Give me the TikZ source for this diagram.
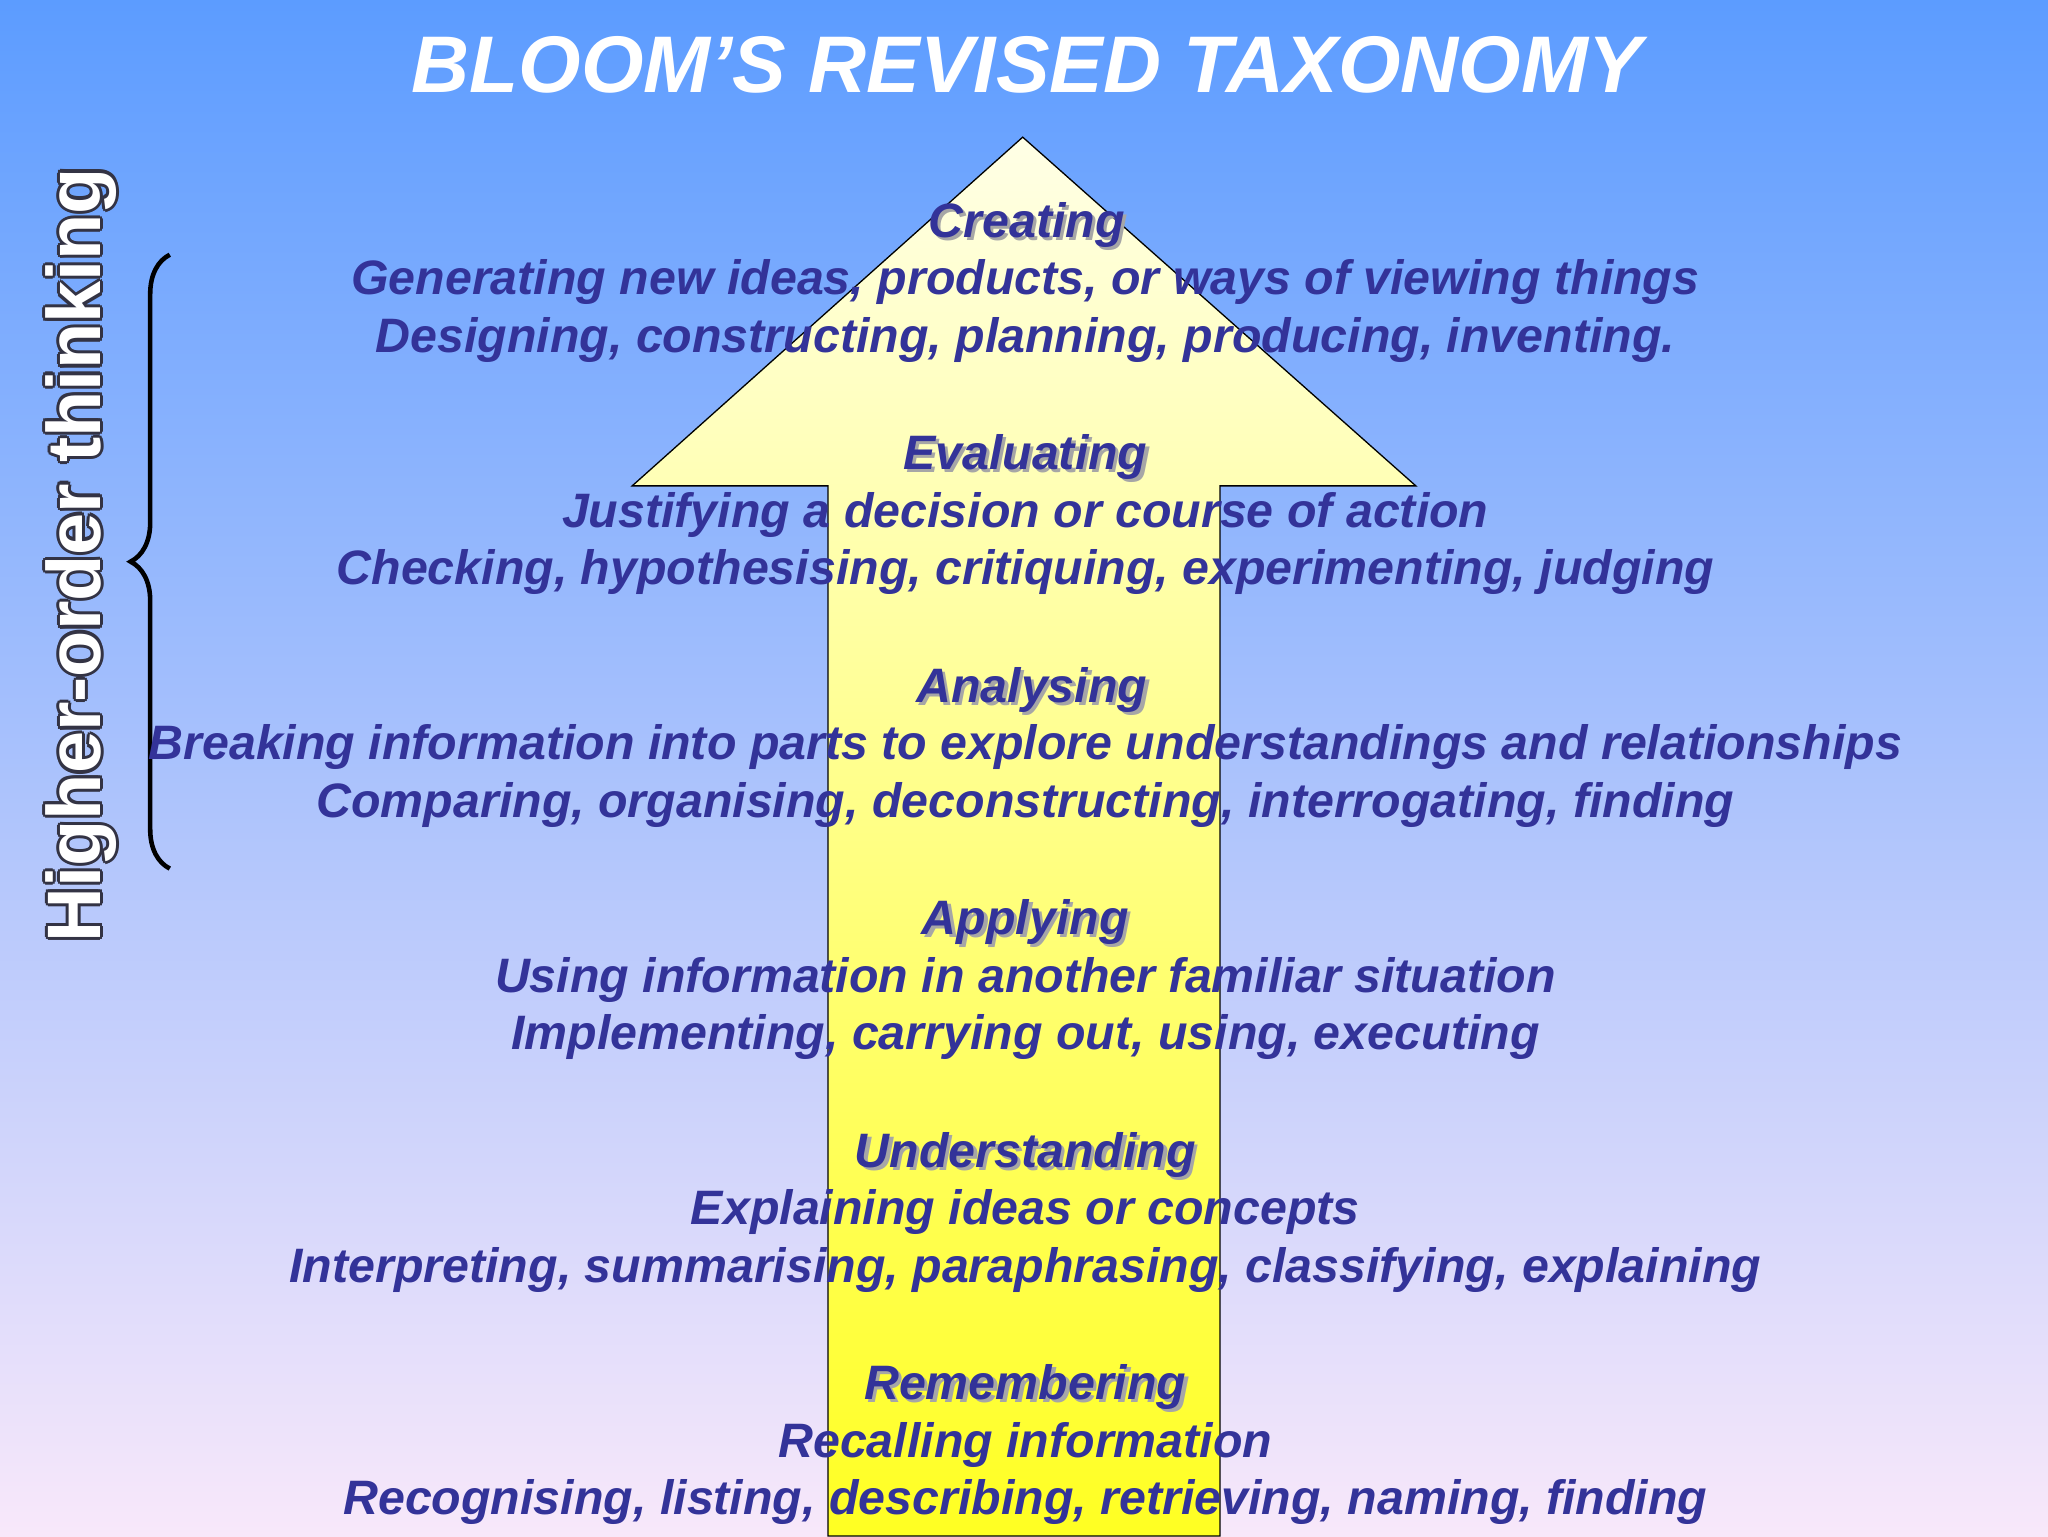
\documentclass[tikz,border=0pt]{standalone}
\usepackage{fontspec}
\setmainfont{Liberation Sans}
\usetikzlibrary{decorations.pathreplacing}
\definecolor{bgtop}{HTML}{5C9CFF}
\definecolor{bgbot}{HTML}{F8E8FA}
\definecolor{txt}{HTML}{333399}
\definecolor{arrtop}{HTML}{FFFFE6}
\definecolor{arrbot}{HTML}{FFFF22}
\definecolor{outl}{HTML}{333344}
\tikzset{
 body/.style={font=\fontsize{37}{44}\selectfont\bfseries\itshape, text=txt, inner sep=0pt},
 head/.style={font=\fontsize{37}{44}\selectfont\bfseries\itshape, text=txt, inner sep=0pt},
 hot/.style={rotate=90,font=\fontsize{58}{68}\selectfont\bfseries,inner sep=0pt},
}
\newcommand{\hd}[3]{\node[head,text=gray!70] at (#1+2.5,#2+2.5) {#3};\node[head] at (#1,#2) {#3};}
\begin{document}
\begin{tikzpicture}[x=1pt,y=-1pt]
\useasboundingbox (0,0) rectangle (1568,1176);
\shade[top color=bgtop,bottom color=bgbot] (0,0) rectangle (1568,1176);
\node[font=\fontsize{61.5}{70}\selectfont\bfseries\itshape,text=white] (title) at (786,50) {BLOOM’S REVISED TAXONOMY};
\shade[top color=arrtop,bottom color=arrbot,draw=black,line width=1pt]
 (783,105) -- (1084,372) -- (934,372) -- (934,1176) -- (634,1176) -- (634,372) -- (484,372) -- cycle;
\foreach \dx/\dy in {-2.5/0,2.5/0,0/-2.5,0/2.5,-1.8/-1.8,1.8/1.8,-1.8/1.8,1.8/-1.8}
 \node[hot,text=outl] at (62+\dx,425+\dy) {Higher-order thinking};
\node[hot,text=white] (hot) at (62,425) {Higher-order thinking};
\draw[decorate,decoration={brace,amplitude=30pt},line width=3.5pt] (130,665) -- (130,195);
\hd{786}{172}{Creating}
\node[body] (c1) at (785,216) {Generating new ideas, products, or ways of viewing things};
\node[body] (c2) at (785,260) {Designing, constructing, planning, producing, inventing.};
\hd{785}{350}{Evaluating}
\node[body] (e1) at (785,394) {Justifying a decision or course of action};
\node[body] (e2) at (785,438) {Checking, hypothesising, critiquing, experimenting, judging};
\hd{790}{528}{Analysing}
\node[body] (a1) at (785,572) {Breaking information into parts to explore understandings and relationships};
\node[body] (a2) at (785,616) {Comparing, organising, deconstructing, interrogating, finding};
\hd{785}{706}{Applying}
\node[body] (p1) at (785,750) {Using information in another familiar situation};
\node[body] (p2) at (785,794) {Implementing, carrying out, using, executing};
\hd{785}{884}{Understanding}
\node[body] (u1) at (785,928) {Explaining ideas or concepts};
\node[body] (u2) at (785,972) {Interpreting, summarising, paraphrasing, classifying, explaining};
\hd{785}{1062}{Remembering}
\node[body] (r1) at (785,1106) {Recalling information};
\node[body] (r2) at (785,1150) {Recognising, listing, describing, retrieving, naming, finding};
\end{tikzpicture}
\end{document}
